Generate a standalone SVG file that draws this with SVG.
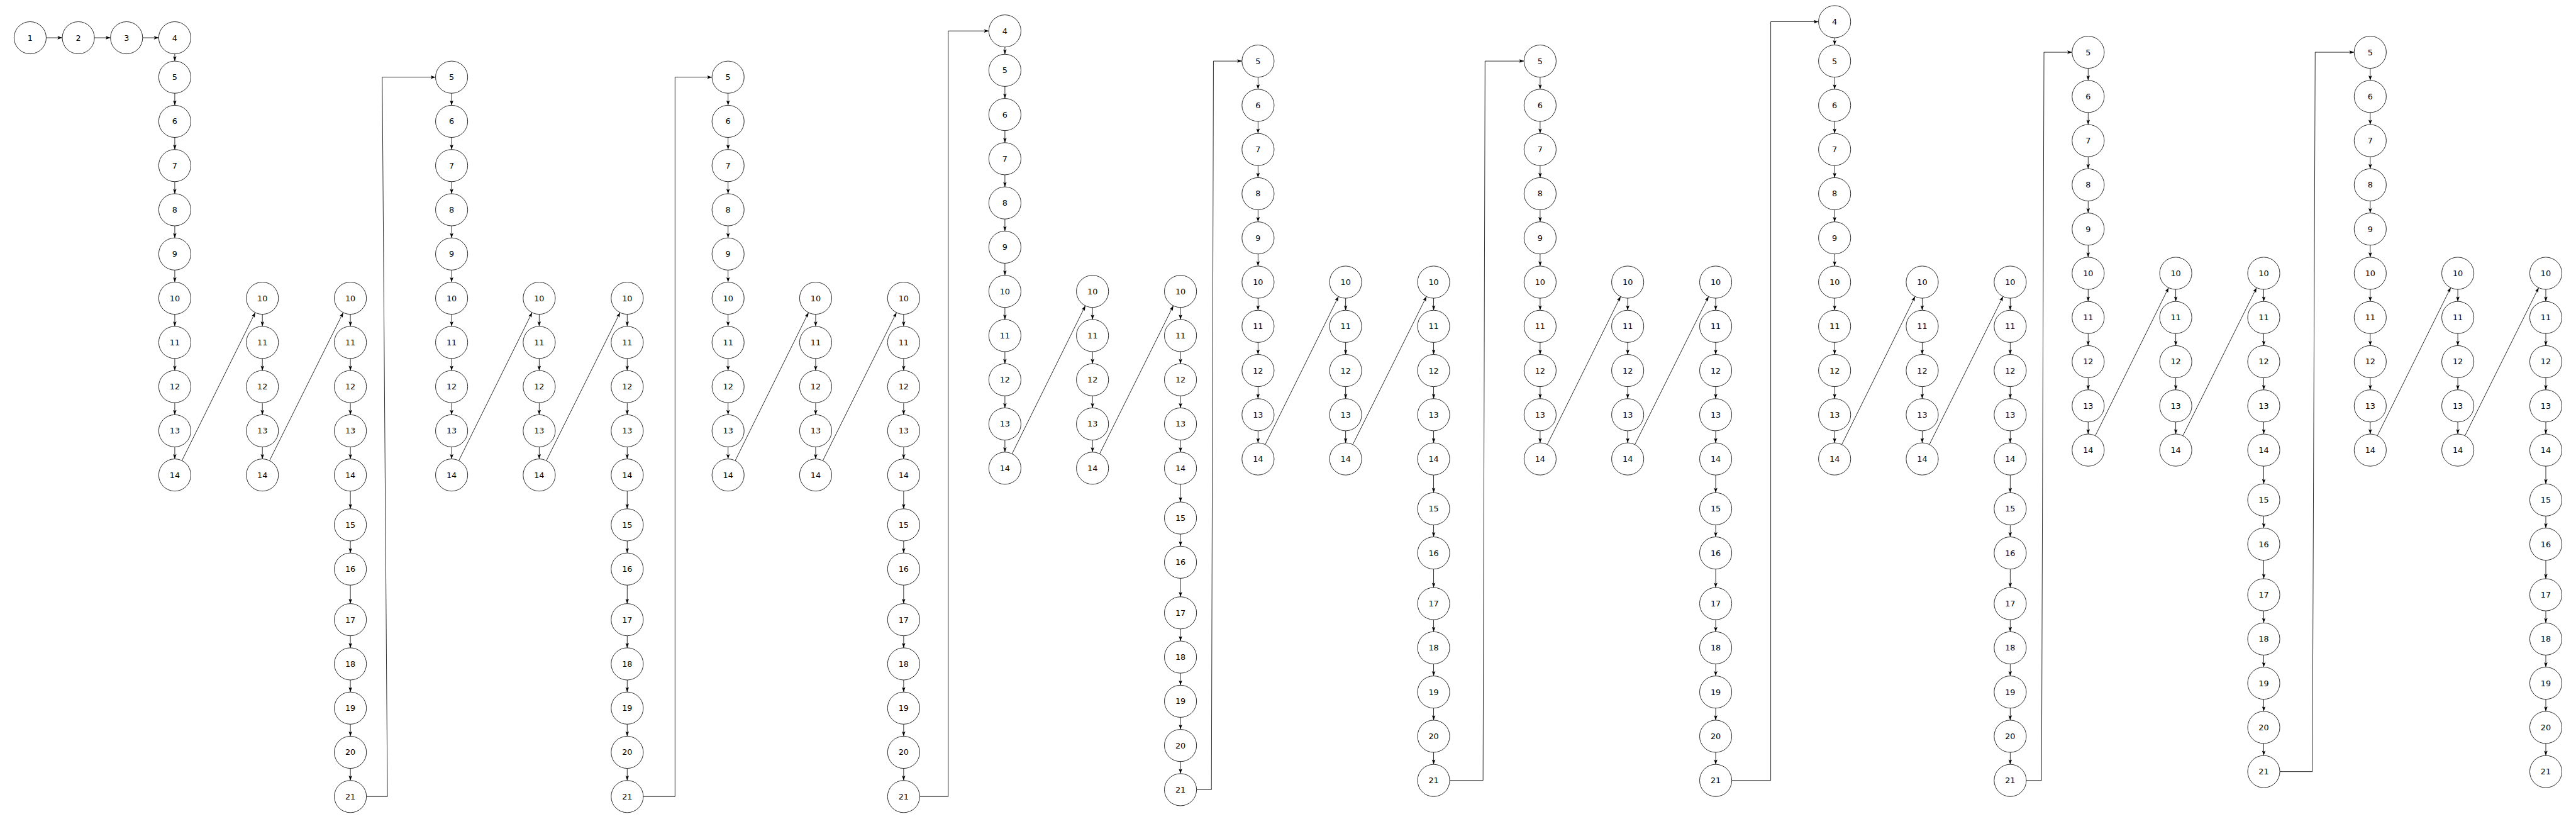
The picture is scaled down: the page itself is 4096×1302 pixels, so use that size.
<svg xmlns="http://www.w3.org/2000/svg" width="4096" height="1302" viewBox="0 0 4096 1302">
<style>
.node circle{fill:#fff;stroke:#000;stroke-width:1.3}
.node text{font-family:"DejaVu Sans",sans-serif;font-size:20px;text-anchor:middle;fill:#000}
.edges path{fill:none;stroke:#000;stroke-width:1.3;marker-end:url(#arr)}
</style>
<defs>
<marker id="arr" markerUnits="userSpaceOnUse" viewBox="0 0 12 8.6" markerWidth="12" markerHeight="8.6" refX="12" refY="4.3" orient="auto" overflow="visible"><path d="M0,0L12,4.3L0,8.6L2.5,4.3Z" fill="#000"/></marker>
</defs>
<rect width="4096" height="1302" fill="#fff"/>
<g transform="scale(0.63889)">
<g id="connectors" class="edges">
<path d="M115 94H155"/><path d="M235 94H275"/><path d="M355 94H395"/>
<g transform="translate(435,0)"><path d="M0 134V152"/><path d="M0 232V262"/><path d="M0 342V372"/><path d="M0 452V482"/><path d="M0 562V592"/><path d="M0 672V702"/><path d="M0 782V812"/><path d="M0 892V922"/><path d="M0 1002V1032"/><path d="M0 1112V1142"/><path d="M218 782V812"/><path d="M218 892V922"/><path d="M218 1002V1032"/><path d="M218 1112V1142"/><path d="M437 782V812"/><path d="M437 892V922"/><path d="M437 1002V1032"/><path d="M437 1112V1142"/><path d="M437 1222V1266"/><path d="M437 1346V1376"/><path d="M437 1456V1502"/><path d="M437 1582V1612"/><path d="M437 1692V1722"/><path d="M437 1802V1832"/><path d="M437 1912V1942"/><path d="M17.8 1146.2L200.2 777.8"/><path d="M235.8 1146.2L419.2 777.8"/></g>
<g transform="translate(1124,0)"><path d="M0 232V262"/><path d="M0 342V372"/><path d="M0 452V482"/><path d="M0 562V592"/><path d="M0 672V702"/><path d="M0 782V812"/><path d="M0 892V922"/><path d="M0 1002V1032"/><path d="M0 1112V1142"/><path d="M218 782V812"/><path d="M218 892V922"/><path d="M218 1002V1032"/><path d="M218 1112V1142"/><path d="M437 782V812"/><path d="M437 892V922"/><path d="M437 1002V1032"/><path d="M437 1112V1142"/><path d="M437 1222V1266"/><path d="M437 1346V1376"/><path d="M437 1456V1502"/><path d="M437 1582V1612"/><path d="M437 1692V1722"/><path d="M437 1802V1832"/><path d="M437 1912V1942"/><path d="M17.8 1146.2L200.2 777.8"/><path d="M235.8 1146.2L419.2 777.8"/></g>
<g transform="translate(1812,0)"><path d="M0 232V262"/><path d="M0 342V372"/><path d="M0 452V482"/><path d="M0 562V592"/><path d="M0 672V702"/><path d="M0 782V812"/><path d="M0 892V922"/><path d="M0 1002V1032"/><path d="M0 1112V1142"/><path d="M218 782V812"/><path d="M218 892V922"/><path d="M218 1002V1032"/><path d="M218 1112V1142"/><path d="M437 782V812"/><path d="M437 892V922"/><path d="M437 1002V1032"/><path d="M437 1112V1142"/><path d="M437 1222V1266"/><path d="M437 1346V1376"/><path d="M437 1456V1502"/><path d="M437 1582V1612"/><path d="M437 1692V1722"/><path d="M437 1802V1832"/><path d="M437 1912V1942"/><path d="M17.8 1146.2L200.2 777.8"/><path d="M235.8 1146.2L419.2 777.8"/></g>
<g transform="translate(2501,-17)"><path d="M0 134V152"/><path d="M0 232V262"/><path d="M0 342V372"/><path d="M0 452V482"/><path d="M0 562V592"/><path d="M0 672V702"/><path d="M0 782V812"/><path d="M0 892V922"/><path d="M0 1002V1032"/><path d="M0 1112V1142"/><path d="M218 782V812"/><path d="M218 892V922"/><path d="M218 1002V1032"/><path d="M218 1112V1142"/><path d="M437 782V812"/><path d="M437 892V922"/><path d="M437 1002V1032"/><path d="M437 1112V1142"/><path d="M437 1222V1266"/><path d="M437 1346V1376"/><path d="M437 1456V1502"/><path d="M437 1582V1612"/><path d="M437 1692V1722"/><path d="M437 1802V1832"/><path d="M437 1912V1942"/><path d="M17.8 1146.2L200.2 777.8"/><path d="M235.8 1146.2L419.2 777.8"/></g>
<g transform="translate(3131,-40)"><path d="M0 232V262"/><path d="M0 342V372"/><path d="M0 452V482"/><path d="M0 562V592"/><path d="M0 672V702"/><path d="M0 782V812"/><path d="M0 892V922"/><path d="M0 1002V1032"/><path d="M0 1112V1142"/><path d="M218 782V812"/><path d="M218 892V922"/><path d="M218 1002V1032"/><path d="M218 1112V1142"/><path d="M437 782V812"/><path d="M437 892V922"/><path d="M437 1002V1032"/><path d="M437 1112V1142"/><path d="M437 1222V1266"/><path d="M437 1346V1376"/><path d="M437 1456V1502"/><path d="M437 1582V1612"/><path d="M437 1692V1722"/><path d="M437 1802V1832"/><path d="M437 1912V1942"/><path d="M17.8 1146.2L200.2 777.8"/><path d="M235.8 1146.2L419.2 777.8"/></g>
<g transform="translate(3833,-40)"><path d="M0 232V262"/><path d="M0 342V372"/><path d="M0 452V482"/><path d="M0 562V592"/><path d="M0 672V702"/><path d="M0 782V812"/><path d="M0 892V922"/><path d="M0 1002V1032"/><path d="M0 1112V1142"/><path d="M218 782V812"/><path d="M218 892V922"/><path d="M218 1002V1032"/><path d="M218 1112V1142"/><path d="M437 782V812"/><path d="M437 892V922"/><path d="M437 1002V1032"/><path d="M437 1112V1142"/><path d="M437 1222V1266"/><path d="M437 1346V1376"/><path d="M437 1456V1502"/><path d="M437 1582V1612"/><path d="M437 1692V1722"/><path d="M437 1802V1832"/><path d="M437 1912V1942"/><path d="M17.8 1146.2L200.2 777.8"/><path d="M235.8 1146.2L419.2 777.8"/></g>
<g transform="translate(4566,-40)"><path d="M0 134V152"/><path d="M0 232V262"/><path d="M0 342V372"/><path d="M0 452V482"/><path d="M0 562V592"/><path d="M0 672V702"/><path d="M0 782V812"/><path d="M0 892V922"/><path d="M0 1002V1032"/><path d="M0 1112V1142"/><path d="M218 782V812"/><path d="M218 892V922"/><path d="M218 1002V1032"/><path d="M218 1112V1142"/><path d="M437 782V812"/><path d="M437 892V922"/><path d="M437 1002V1032"/><path d="M437 1112V1142"/><path d="M437 1222V1266"/><path d="M437 1346V1376"/><path d="M437 1456V1502"/><path d="M437 1582V1612"/><path d="M437 1692V1722"/><path d="M437 1802V1832"/><path d="M437 1912V1942"/><path d="M17.8 1146.2L200.2 777.8"/><path d="M235.8 1146.2L419.2 777.8"/></g>
<g transform="translate(5197,-62)"><path d="M0 232V262"/><path d="M0 342V372"/><path d="M0 452V482"/><path d="M0 562V592"/><path d="M0 672V702"/><path d="M0 782V812"/><path d="M0 892V922"/><path d="M0 1002V1032"/><path d="M0 1112V1142"/><path d="M218 782V812"/><path d="M218 892V922"/><path d="M218 1002V1032"/><path d="M218 1112V1142"/><path d="M437 782V812"/><path d="M437 892V922"/><path d="M437 1002V1032"/><path d="M437 1112V1142"/><path d="M437 1222V1266"/><path d="M437 1346V1376"/><path d="M437 1456V1502"/><path d="M437 1582V1612"/><path d="M437 1692V1722"/><path d="M437 1802V1832"/><path d="M437 1912V1942"/><path d="M17.8 1146.2L200.2 777.8"/><path d="M235.8 1146.2L419.2 777.8"/></g>
<g transform="translate(5899,-62)"><path d="M0 232V262"/><path d="M0 342V372"/><path d="M0 452V482"/><path d="M0 562V592"/><path d="M0 672V702"/><path d="M0 782V812"/><path d="M0 892V922"/><path d="M0 1002V1032"/><path d="M0 1112V1142"/><path d="M218 782V812"/><path d="M218 892V922"/><path d="M218 1002V1032"/><path d="M218 1112V1142"/><path d="M437 782V812"/><path d="M437 892V922"/><path d="M437 1002V1032"/><path d="M437 1112V1142"/><path d="M437 1222V1266"/><path d="M437 1346V1376"/><path d="M437 1456V1502"/><path d="M437 1582V1612"/><path d="M437 1692V1722"/><path d="M437 1802V1832"/><path d="M437 1912V1942"/><path d="M17.8 1146.2L200.2 777.8"/><path d="M235.8 1146.2L419.2 777.8"/></g>
<path d="M912 1982H964.3L951.3 192H1084"/>
<path d="M1601 1982H1680V192H1772"/>
<path d="M2289 1982H2360V77H2461"/>
<path d="M2978 1965H3015L3020 152H3091"/>
<path d="M3608 1942H3691L3696 152H3793"/>
<path d="M4310 1942H4407V54H4526"/>
<path d="M5043 1942H5081L5087 130H5157"/>
<path d="M5674 1920H5755L5762 130H5859"/>
</g>
<g id="nodes">
<g id="n1" class="node"><circle cx="75" cy="94" r="40"/><text x="75" y="101">1</text></g>
<g id="n2" class="node"><circle cx="195" cy="94" r="40"/><text x="195" y="101">2</text></g>
<g id="n3" class="node"><circle cx="315" cy="94" r="40"/><text x="315" y="101">3</text></g>
<g id="block1" transform="translate(435,0)">
<g id="b1-A4" class="node"><circle cx="0" cy="94" r="40"/><text x="0" y="101">4</text></g>
<g id="b1-A5" class="node"><circle cx="0" cy="192" r="40"/><text x="0" y="199">5</text></g>
<g id="b1-A6" class="node"><circle cx="0" cy="302" r="40"/><text x="0" y="309">6</text></g>
<g id="b1-A7" class="node"><circle cx="0" cy="412" r="40"/><text x="0" y="419">7</text></g>
<g id="b1-A8" class="node"><circle cx="0" cy="522" r="40"/><text x="0" y="529">8</text></g>
<g id="b1-A9" class="node"><circle cx="0" cy="632" r="40"/><text x="0" y="639">9</text></g>
<g id="b1-A10" class="node"><circle cx="0" cy="742" r="40"/><text x="0" y="749">10</text></g>
<g id="b1-A11" class="node"><circle cx="0" cy="852" r="40"/><text x="0" y="859">11</text></g>
<g id="b1-A12" class="node"><circle cx="0" cy="962" r="40"/><text x="0" y="969">12</text></g>
<g id="b1-A13" class="node"><circle cx="0" cy="1072" r="40"/><text x="0" y="1079">13</text></g>
<g id="b1-A14" class="node"><circle cx="0" cy="1182" r="40"/><text x="0" y="1189">14</text></g>
<g id="b1-B10" class="node"><circle cx="218" cy="742" r="40"/><text x="218" y="749">10</text></g>
<g id="b1-B11" class="node"><circle cx="218" cy="852" r="40"/><text x="218" y="859">11</text></g>
<g id="b1-B12" class="node"><circle cx="218" cy="962" r="40"/><text x="218" y="969">12</text></g>
<g id="b1-B13" class="node"><circle cx="218" cy="1072" r="40"/><text x="218" y="1079">13</text></g>
<g id="b1-B14" class="node"><circle cx="218" cy="1182" r="40"/><text x="218" y="1189">14</text></g>
<g id="b1-C10" class="node"><circle cx="437" cy="742" r="40"/><text x="437" y="749">10</text></g>
<g id="b1-C11" class="node"><circle cx="437" cy="852" r="40"/><text x="437" y="859">11</text></g>
<g id="b1-C12" class="node"><circle cx="437" cy="962" r="40"/><text x="437" y="969">12</text></g>
<g id="b1-C13" class="node"><circle cx="437" cy="1072" r="40"/><text x="437" y="1079">13</text></g>
<g id="b1-C14" class="node"><circle cx="437" cy="1182" r="40"/><text x="437" y="1189">14</text></g>
<g id="b1-C15" class="node"><circle cx="437" cy="1306" r="40"/><text x="437" y="1313">15</text></g>
<g id="b1-C16" class="node"><circle cx="437" cy="1416" r="40"/><text x="437" y="1423">16</text></g>
<g id="b1-C17" class="node"><circle cx="437" cy="1542" r="40"/><text x="437" y="1549">17</text></g>
<g id="b1-C18" class="node"><circle cx="437" cy="1652" r="40"/><text x="437" y="1659">18</text></g>
<g id="b1-C19" class="node"><circle cx="437" cy="1762" r="40"/><text x="437" y="1769">19</text></g>
<g id="b1-C20" class="node"><circle cx="437" cy="1872" r="40"/><text x="437" y="1879">20</text></g>
<g id="b1-C21" class="node"><circle cx="437" cy="1982" r="40"/><text x="437" y="1989">21</text></g>
</g>
<g id="block2" transform="translate(1124,0)">
<g id="b2-A5" class="node"><circle cx="0" cy="192" r="40"/><text x="0" y="199">5</text></g>
<g id="b2-A6" class="node"><circle cx="0" cy="302" r="40"/><text x="0" y="309">6</text></g>
<g id="b2-A7" class="node"><circle cx="0" cy="412" r="40"/><text x="0" y="419">7</text></g>
<g id="b2-A8" class="node"><circle cx="0" cy="522" r="40"/><text x="0" y="529">8</text></g>
<g id="b2-A9" class="node"><circle cx="0" cy="632" r="40"/><text x="0" y="639">9</text></g>
<g id="b2-A10" class="node"><circle cx="0" cy="742" r="40"/><text x="0" y="749">10</text></g>
<g id="b2-A11" class="node"><circle cx="0" cy="852" r="40"/><text x="0" y="859">11</text></g>
<g id="b2-A12" class="node"><circle cx="0" cy="962" r="40"/><text x="0" y="969">12</text></g>
<g id="b2-A13" class="node"><circle cx="0" cy="1072" r="40"/><text x="0" y="1079">13</text></g>
<g id="b2-A14" class="node"><circle cx="0" cy="1182" r="40"/><text x="0" y="1189">14</text></g>
<g id="b2-B10" class="node"><circle cx="218" cy="742" r="40"/><text x="218" y="749">10</text></g>
<g id="b2-B11" class="node"><circle cx="218" cy="852" r="40"/><text x="218" y="859">11</text></g>
<g id="b2-B12" class="node"><circle cx="218" cy="962" r="40"/><text x="218" y="969">12</text></g>
<g id="b2-B13" class="node"><circle cx="218" cy="1072" r="40"/><text x="218" y="1079">13</text></g>
<g id="b2-B14" class="node"><circle cx="218" cy="1182" r="40"/><text x="218" y="1189">14</text></g>
<g id="b2-C10" class="node"><circle cx="437" cy="742" r="40"/><text x="437" y="749">10</text></g>
<g id="b2-C11" class="node"><circle cx="437" cy="852" r="40"/><text x="437" y="859">11</text></g>
<g id="b2-C12" class="node"><circle cx="437" cy="962" r="40"/><text x="437" y="969">12</text></g>
<g id="b2-C13" class="node"><circle cx="437" cy="1072" r="40"/><text x="437" y="1079">13</text></g>
<g id="b2-C14" class="node"><circle cx="437" cy="1182" r="40"/><text x="437" y="1189">14</text></g>
<g id="b2-C15" class="node"><circle cx="437" cy="1306" r="40"/><text x="437" y="1313">15</text></g>
<g id="b2-C16" class="node"><circle cx="437" cy="1416" r="40"/><text x="437" y="1423">16</text></g>
<g id="b2-C17" class="node"><circle cx="437" cy="1542" r="40"/><text x="437" y="1549">17</text></g>
<g id="b2-C18" class="node"><circle cx="437" cy="1652" r="40"/><text x="437" y="1659">18</text></g>
<g id="b2-C19" class="node"><circle cx="437" cy="1762" r="40"/><text x="437" y="1769">19</text></g>
<g id="b2-C20" class="node"><circle cx="437" cy="1872" r="40"/><text x="437" y="1879">20</text></g>
<g id="b2-C21" class="node"><circle cx="437" cy="1982" r="40"/><text x="437" y="1989">21</text></g>
</g>
<g id="block3" transform="translate(1812,0)">
<g id="b3-A5" class="node"><circle cx="0" cy="192" r="40"/><text x="0" y="199">5</text></g>
<g id="b3-A6" class="node"><circle cx="0" cy="302" r="40"/><text x="0" y="309">6</text></g>
<g id="b3-A7" class="node"><circle cx="0" cy="412" r="40"/><text x="0" y="419">7</text></g>
<g id="b3-A8" class="node"><circle cx="0" cy="522" r="40"/><text x="0" y="529">8</text></g>
<g id="b3-A9" class="node"><circle cx="0" cy="632" r="40"/><text x="0" y="639">9</text></g>
<g id="b3-A10" class="node"><circle cx="0" cy="742" r="40"/><text x="0" y="749">10</text></g>
<g id="b3-A11" class="node"><circle cx="0" cy="852" r="40"/><text x="0" y="859">11</text></g>
<g id="b3-A12" class="node"><circle cx="0" cy="962" r="40"/><text x="0" y="969">12</text></g>
<g id="b3-A13" class="node"><circle cx="0" cy="1072" r="40"/><text x="0" y="1079">13</text></g>
<g id="b3-A14" class="node"><circle cx="0" cy="1182" r="40"/><text x="0" y="1189">14</text></g>
<g id="b3-B10" class="node"><circle cx="218" cy="742" r="40"/><text x="218" y="749">10</text></g>
<g id="b3-B11" class="node"><circle cx="218" cy="852" r="40"/><text x="218" y="859">11</text></g>
<g id="b3-B12" class="node"><circle cx="218" cy="962" r="40"/><text x="218" y="969">12</text></g>
<g id="b3-B13" class="node"><circle cx="218" cy="1072" r="40"/><text x="218" y="1079">13</text></g>
<g id="b3-B14" class="node"><circle cx="218" cy="1182" r="40"/><text x="218" y="1189">14</text></g>
<g id="b3-C10" class="node"><circle cx="437" cy="742" r="40"/><text x="437" y="749">10</text></g>
<g id="b3-C11" class="node"><circle cx="437" cy="852" r="40"/><text x="437" y="859">11</text></g>
<g id="b3-C12" class="node"><circle cx="437" cy="962" r="40"/><text x="437" y="969">12</text></g>
<g id="b3-C13" class="node"><circle cx="437" cy="1072" r="40"/><text x="437" y="1079">13</text></g>
<g id="b3-C14" class="node"><circle cx="437" cy="1182" r="40"/><text x="437" y="1189">14</text></g>
<g id="b3-C15" class="node"><circle cx="437" cy="1306" r="40"/><text x="437" y="1313">15</text></g>
<g id="b3-C16" class="node"><circle cx="437" cy="1416" r="40"/><text x="437" y="1423">16</text></g>
<g id="b3-C17" class="node"><circle cx="437" cy="1542" r="40"/><text x="437" y="1549">17</text></g>
<g id="b3-C18" class="node"><circle cx="437" cy="1652" r="40"/><text x="437" y="1659">18</text></g>
<g id="b3-C19" class="node"><circle cx="437" cy="1762" r="40"/><text x="437" y="1769">19</text></g>
<g id="b3-C20" class="node"><circle cx="437" cy="1872" r="40"/><text x="437" y="1879">20</text></g>
<g id="b3-C21" class="node"><circle cx="437" cy="1982" r="40"/><text x="437" y="1989">21</text></g>
</g>
<g id="block4" transform="translate(2501,-17)">
<g id="b4-A4" class="node"><circle cx="0" cy="94" r="40"/><text x="0" y="101">4</text></g>
<g id="b4-A5" class="node"><circle cx="0" cy="192" r="40"/><text x="0" y="199">5</text></g>
<g id="b4-A6" class="node"><circle cx="0" cy="302" r="40"/><text x="0" y="309">6</text></g>
<g id="b4-A7" class="node"><circle cx="0" cy="412" r="40"/><text x="0" y="419">7</text></g>
<g id="b4-A8" class="node"><circle cx="0" cy="522" r="40"/><text x="0" y="529">8</text></g>
<g id="b4-A9" class="node"><circle cx="0" cy="632" r="40"/><text x="0" y="639">9</text></g>
<g id="b4-A10" class="node"><circle cx="0" cy="742" r="40"/><text x="0" y="749">10</text></g>
<g id="b4-A11" class="node"><circle cx="0" cy="852" r="40"/><text x="0" y="859">11</text></g>
<g id="b4-A12" class="node"><circle cx="0" cy="962" r="40"/><text x="0" y="969">12</text></g>
<g id="b4-A13" class="node"><circle cx="0" cy="1072" r="40"/><text x="0" y="1079">13</text></g>
<g id="b4-A14" class="node"><circle cx="0" cy="1182" r="40"/><text x="0" y="1189">14</text></g>
<g id="b4-B10" class="node"><circle cx="218" cy="742" r="40"/><text x="218" y="749">10</text></g>
<g id="b4-B11" class="node"><circle cx="218" cy="852" r="40"/><text x="218" y="859">11</text></g>
<g id="b4-B12" class="node"><circle cx="218" cy="962" r="40"/><text x="218" y="969">12</text></g>
<g id="b4-B13" class="node"><circle cx="218" cy="1072" r="40"/><text x="218" y="1079">13</text></g>
<g id="b4-B14" class="node"><circle cx="218" cy="1182" r="40"/><text x="218" y="1189">14</text></g>
<g id="b4-C10" class="node"><circle cx="437" cy="742" r="40"/><text x="437" y="749">10</text></g>
<g id="b4-C11" class="node"><circle cx="437" cy="852" r="40"/><text x="437" y="859">11</text></g>
<g id="b4-C12" class="node"><circle cx="437" cy="962" r="40"/><text x="437" y="969">12</text></g>
<g id="b4-C13" class="node"><circle cx="437" cy="1072" r="40"/><text x="437" y="1079">13</text></g>
<g id="b4-C14" class="node"><circle cx="437" cy="1182" r="40"/><text x="437" y="1189">14</text></g>
<g id="b4-C15" class="node"><circle cx="437" cy="1306" r="40"/><text x="437" y="1313">15</text></g>
<g id="b4-C16" class="node"><circle cx="437" cy="1416" r="40"/><text x="437" y="1423">16</text></g>
<g id="b4-C17" class="node"><circle cx="437" cy="1542" r="40"/><text x="437" y="1549">17</text></g>
<g id="b4-C18" class="node"><circle cx="437" cy="1652" r="40"/><text x="437" y="1659">18</text></g>
<g id="b4-C19" class="node"><circle cx="437" cy="1762" r="40"/><text x="437" y="1769">19</text></g>
<g id="b4-C20" class="node"><circle cx="437" cy="1872" r="40"/><text x="437" y="1879">20</text></g>
<g id="b4-C21" class="node"><circle cx="437" cy="1982" r="40"/><text x="437" y="1989">21</text></g>
</g>
<g id="block5" transform="translate(3131,-40)">
<g id="b5-A5" class="node"><circle cx="0" cy="192" r="40"/><text x="0" y="199">5</text></g>
<g id="b5-A6" class="node"><circle cx="0" cy="302" r="40"/><text x="0" y="309">6</text></g>
<g id="b5-A7" class="node"><circle cx="0" cy="412" r="40"/><text x="0" y="419">7</text></g>
<g id="b5-A8" class="node"><circle cx="0" cy="522" r="40"/><text x="0" y="529">8</text></g>
<g id="b5-A9" class="node"><circle cx="0" cy="632" r="40"/><text x="0" y="639">9</text></g>
<g id="b5-A10" class="node"><circle cx="0" cy="742" r="40"/><text x="0" y="749">10</text></g>
<g id="b5-A11" class="node"><circle cx="0" cy="852" r="40"/><text x="0" y="859">11</text></g>
<g id="b5-A12" class="node"><circle cx="0" cy="962" r="40"/><text x="0" y="969">12</text></g>
<g id="b5-A13" class="node"><circle cx="0" cy="1072" r="40"/><text x="0" y="1079">13</text></g>
<g id="b5-A14" class="node"><circle cx="0" cy="1182" r="40"/><text x="0" y="1189">14</text></g>
<g id="b5-B10" class="node"><circle cx="218" cy="742" r="40"/><text x="218" y="749">10</text></g>
<g id="b5-B11" class="node"><circle cx="218" cy="852" r="40"/><text x="218" y="859">11</text></g>
<g id="b5-B12" class="node"><circle cx="218" cy="962" r="40"/><text x="218" y="969">12</text></g>
<g id="b5-B13" class="node"><circle cx="218" cy="1072" r="40"/><text x="218" y="1079">13</text></g>
<g id="b5-B14" class="node"><circle cx="218" cy="1182" r="40"/><text x="218" y="1189">14</text></g>
<g id="b5-C10" class="node"><circle cx="437" cy="742" r="40"/><text x="437" y="749">10</text></g>
<g id="b5-C11" class="node"><circle cx="437" cy="852" r="40"/><text x="437" y="859">11</text></g>
<g id="b5-C12" class="node"><circle cx="437" cy="962" r="40"/><text x="437" y="969">12</text></g>
<g id="b5-C13" class="node"><circle cx="437" cy="1072" r="40"/><text x="437" y="1079">13</text></g>
<g id="b5-C14" class="node"><circle cx="437" cy="1182" r="40"/><text x="437" y="1189">14</text></g>
<g id="b5-C15" class="node"><circle cx="437" cy="1306" r="40"/><text x="437" y="1313">15</text></g>
<g id="b5-C16" class="node"><circle cx="437" cy="1416" r="40"/><text x="437" y="1423">16</text></g>
<g id="b5-C17" class="node"><circle cx="437" cy="1542" r="40"/><text x="437" y="1549">17</text></g>
<g id="b5-C18" class="node"><circle cx="437" cy="1652" r="40"/><text x="437" y="1659">18</text></g>
<g id="b5-C19" class="node"><circle cx="437" cy="1762" r="40"/><text x="437" y="1769">19</text></g>
<g id="b5-C20" class="node"><circle cx="437" cy="1872" r="40"/><text x="437" y="1879">20</text></g>
<g id="b5-C21" class="node"><circle cx="437" cy="1982" r="40"/><text x="437" y="1989">21</text></g>
</g>
<g id="block6" transform="translate(3833,-40)">
<g id="b6-A5" class="node"><circle cx="0" cy="192" r="40"/><text x="0" y="199">5</text></g>
<g id="b6-A6" class="node"><circle cx="0" cy="302" r="40"/><text x="0" y="309">6</text></g>
<g id="b6-A7" class="node"><circle cx="0" cy="412" r="40"/><text x="0" y="419">7</text></g>
<g id="b6-A8" class="node"><circle cx="0" cy="522" r="40"/><text x="0" y="529">8</text></g>
<g id="b6-A9" class="node"><circle cx="0" cy="632" r="40"/><text x="0" y="639">9</text></g>
<g id="b6-A10" class="node"><circle cx="0" cy="742" r="40"/><text x="0" y="749">10</text></g>
<g id="b6-A11" class="node"><circle cx="0" cy="852" r="40"/><text x="0" y="859">11</text></g>
<g id="b6-A12" class="node"><circle cx="0" cy="962" r="40"/><text x="0" y="969">12</text></g>
<g id="b6-A13" class="node"><circle cx="0" cy="1072" r="40"/><text x="0" y="1079">13</text></g>
<g id="b6-A14" class="node"><circle cx="0" cy="1182" r="40"/><text x="0" y="1189">14</text></g>
<g id="b6-B10" class="node"><circle cx="218" cy="742" r="40"/><text x="218" y="749">10</text></g>
<g id="b6-B11" class="node"><circle cx="218" cy="852" r="40"/><text x="218" y="859">11</text></g>
<g id="b6-B12" class="node"><circle cx="218" cy="962" r="40"/><text x="218" y="969">12</text></g>
<g id="b6-B13" class="node"><circle cx="218" cy="1072" r="40"/><text x="218" y="1079">13</text></g>
<g id="b6-B14" class="node"><circle cx="218" cy="1182" r="40"/><text x="218" y="1189">14</text></g>
<g id="b6-C10" class="node"><circle cx="437" cy="742" r="40"/><text x="437" y="749">10</text></g>
<g id="b6-C11" class="node"><circle cx="437" cy="852" r="40"/><text x="437" y="859">11</text></g>
<g id="b6-C12" class="node"><circle cx="437" cy="962" r="40"/><text x="437" y="969">12</text></g>
<g id="b6-C13" class="node"><circle cx="437" cy="1072" r="40"/><text x="437" y="1079">13</text></g>
<g id="b6-C14" class="node"><circle cx="437" cy="1182" r="40"/><text x="437" y="1189">14</text></g>
<g id="b6-C15" class="node"><circle cx="437" cy="1306" r="40"/><text x="437" y="1313">15</text></g>
<g id="b6-C16" class="node"><circle cx="437" cy="1416" r="40"/><text x="437" y="1423">16</text></g>
<g id="b6-C17" class="node"><circle cx="437" cy="1542" r="40"/><text x="437" y="1549">17</text></g>
<g id="b6-C18" class="node"><circle cx="437" cy="1652" r="40"/><text x="437" y="1659">18</text></g>
<g id="b6-C19" class="node"><circle cx="437" cy="1762" r="40"/><text x="437" y="1769">19</text></g>
<g id="b6-C20" class="node"><circle cx="437" cy="1872" r="40"/><text x="437" y="1879">20</text></g>
<g id="b6-C21" class="node"><circle cx="437" cy="1982" r="40"/><text x="437" y="1989">21</text></g>
</g>
<g id="block7" transform="translate(4566,-40)">
<g id="b7-A4" class="node"><circle cx="0" cy="94" r="40"/><text x="0" y="101">4</text></g>
<g id="b7-A5" class="node"><circle cx="0" cy="192" r="40"/><text x="0" y="199">5</text></g>
<g id="b7-A6" class="node"><circle cx="0" cy="302" r="40"/><text x="0" y="309">6</text></g>
<g id="b7-A7" class="node"><circle cx="0" cy="412" r="40"/><text x="0" y="419">7</text></g>
<g id="b7-A8" class="node"><circle cx="0" cy="522" r="40"/><text x="0" y="529">8</text></g>
<g id="b7-A9" class="node"><circle cx="0" cy="632" r="40"/><text x="0" y="639">9</text></g>
<g id="b7-A10" class="node"><circle cx="0" cy="742" r="40"/><text x="0" y="749">10</text></g>
<g id="b7-A11" class="node"><circle cx="0" cy="852" r="40"/><text x="0" y="859">11</text></g>
<g id="b7-A12" class="node"><circle cx="0" cy="962" r="40"/><text x="0" y="969">12</text></g>
<g id="b7-A13" class="node"><circle cx="0" cy="1072" r="40"/><text x="0" y="1079">13</text></g>
<g id="b7-A14" class="node"><circle cx="0" cy="1182" r="40"/><text x="0" y="1189">14</text></g>
<g id="b7-B10" class="node"><circle cx="218" cy="742" r="40"/><text x="218" y="749">10</text></g>
<g id="b7-B11" class="node"><circle cx="218" cy="852" r="40"/><text x="218" y="859">11</text></g>
<g id="b7-B12" class="node"><circle cx="218" cy="962" r="40"/><text x="218" y="969">12</text></g>
<g id="b7-B13" class="node"><circle cx="218" cy="1072" r="40"/><text x="218" y="1079">13</text></g>
<g id="b7-B14" class="node"><circle cx="218" cy="1182" r="40"/><text x="218" y="1189">14</text></g>
<g id="b7-C10" class="node"><circle cx="437" cy="742" r="40"/><text x="437" y="749">10</text></g>
<g id="b7-C11" class="node"><circle cx="437" cy="852" r="40"/><text x="437" y="859">11</text></g>
<g id="b7-C12" class="node"><circle cx="437" cy="962" r="40"/><text x="437" y="969">12</text></g>
<g id="b7-C13" class="node"><circle cx="437" cy="1072" r="40"/><text x="437" y="1079">13</text></g>
<g id="b7-C14" class="node"><circle cx="437" cy="1182" r="40"/><text x="437" y="1189">14</text></g>
<g id="b7-C15" class="node"><circle cx="437" cy="1306" r="40"/><text x="437" y="1313">15</text></g>
<g id="b7-C16" class="node"><circle cx="437" cy="1416" r="40"/><text x="437" y="1423">16</text></g>
<g id="b7-C17" class="node"><circle cx="437" cy="1542" r="40"/><text x="437" y="1549">17</text></g>
<g id="b7-C18" class="node"><circle cx="437" cy="1652" r="40"/><text x="437" y="1659">18</text></g>
<g id="b7-C19" class="node"><circle cx="437" cy="1762" r="40"/><text x="437" y="1769">19</text></g>
<g id="b7-C20" class="node"><circle cx="437" cy="1872" r="40"/><text x="437" y="1879">20</text></g>
<g id="b7-C21" class="node"><circle cx="437" cy="1982" r="40"/><text x="437" y="1989">21</text></g>
</g>
<g id="block8" transform="translate(5197,-62)">
<g id="b8-A5" class="node"><circle cx="0" cy="192" r="40"/><text x="0" y="199">5</text></g>
<g id="b8-A6" class="node"><circle cx="0" cy="302" r="40"/><text x="0" y="309">6</text></g>
<g id="b8-A7" class="node"><circle cx="0" cy="412" r="40"/><text x="0" y="419">7</text></g>
<g id="b8-A8" class="node"><circle cx="0" cy="522" r="40"/><text x="0" y="529">8</text></g>
<g id="b8-A9" class="node"><circle cx="0" cy="632" r="40"/><text x="0" y="639">9</text></g>
<g id="b8-A10" class="node"><circle cx="0" cy="742" r="40"/><text x="0" y="749">10</text></g>
<g id="b8-A11" class="node"><circle cx="0" cy="852" r="40"/><text x="0" y="859">11</text></g>
<g id="b8-A12" class="node"><circle cx="0" cy="962" r="40"/><text x="0" y="969">12</text></g>
<g id="b8-A13" class="node"><circle cx="0" cy="1072" r="40"/><text x="0" y="1079">13</text></g>
<g id="b8-A14" class="node"><circle cx="0" cy="1182" r="40"/><text x="0" y="1189">14</text></g>
<g id="b8-B10" class="node"><circle cx="218" cy="742" r="40"/><text x="218" y="749">10</text></g>
<g id="b8-B11" class="node"><circle cx="218" cy="852" r="40"/><text x="218" y="859">11</text></g>
<g id="b8-B12" class="node"><circle cx="218" cy="962" r="40"/><text x="218" y="969">12</text></g>
<g id="b8-B13" class="node"><circle cx="218" cy="1072" r="40"/><text x="218" y="1079">13</text></g>
<g id="b8-B14" class="node"><circle cx="218" cy="1182" r="40"/><text x="218" y="1189">14</text></g>
<g id="b8-C10" class="node"><circle cx="437" cy="742" r="40"/><text x="437" y="749">10</text></g>
<g id="b8-C11" class="node"><circle cx="437" cy="852" r="40"/><text x="437" y="859">11</text></g>
<g id="b8-C12" class="node"><circle cx="437" cy="962" r="40"/><text x="437" y="969">12</text></g>
<g id="b8-C13" class="node"><circle cx="437" cy="1072" r="40"/><text x="437" y="1079">13</text></g>
<g id="b8-C14" class="node"><circle cx="437" cy="1182" r="40"/><text x="437" y="1189">14</text></g>
<g id="b8-C15" class="node"><circle cx="437" cy="1306" r="40"/><text x="437" y="1313">15</text></g>
<g id="b8-C16" class="node"><circle cx="437" cy="1416" r="40"/><text x="437" y="1423">16</text></g>
<g id="b8-C17" class="node"><circle cx="437" cy="1542" r="40"/><text x="437" y="1549">17</text></g>
<g id="b8-C18" class="node"><circle cx="437" cy="1652" r="40"/><text x="437" y="1659">18</text></g>
<g id="b8-C19" class="node"><circle cx="437" cy="1762" r="40"/><text x="437" y="1769">19</text></g>
<g id="b8-C20" class="node"><circle cx="437" cy="1872" r="40"/><text x="437" y="1879">20</text></g>
<g id="b8-C21" class="node"><circle cx="437" cy="1982" r="40"/><text x="437" y="1989">21</text></g>
</g>
<g id="block9" transform="translate(5899,-62)">
<g id="b9-A5" class="node"><circle cx="0" cy="192" r="40"/><text x="0" y="199">5</text></g>
<g id="b9-A6" class="node"><circle cx="0" cy="302" r="40"/><text x="0" y="309">6</text></g>
<g id="b9-A7" class="node"><circle cx="0" cy="412" r="40"/><text x="0" y="419">7</text></g>
<g id="b9-A8" class="node"><circle cx="0" cy="522" r="40"/><text x="0" y="529">8</text></g>
<g id="b9-A9" class="node"><circle cx="0" cy="632" r="40"/><text x="0" y="639">9</text></g>
<g id="b9-A10" class="node"><circle cx="0" cy="742" r="40"/><text x="0" y="749">10</text></g>
<g id="b9-A11" class="node"><circle cx="0" cy="852" r="40"/><text x="0" y="859">11</text></g>
<g id="b9-A12" class="node"><circle cx="0" cy="962" r="40"/><text x="0" y="969">12</text></g>
<g id="b9-A13" class="node"><circle cx="0" cy="1072" r="40"/><text x="0" y="1079">13</text></g>
<g id="b9-A14" class="node"><circle cx="0" cy="1182" r="40"/><text x="0" y="1189">14</text></g>
<g id="b9-B10" class="node"><circle cx="218" cy="742" r="40"/><text x="218" y="749">10</text></g>
<g id="b9-B11" class="node"><circle cx="218" cy="852" r="40"/><text x="218" y="859">11</text></g>
<g id="b9-B12" class="node"><circle cx="218" cy="962" r="40"/><text x="218" y="969">12</text></g>
<g id="b9-B13" class="node"><circle cx="218" cy="1072" r="40"/><text x="218" y="1079">13</text></g>
<g id="b9-B14" class="node"><circle cx="218" cy="1182" r="40"/><text x="218" y="1189">14</text></g>
<g id="b9-C10" class="node"><circle cx="437" cy="742" r="40"/><text x="437" y="749">10</text></g>
<g id="b9-C11" class="node"><circle cx="437" cy="852" r="40"/><text x="437" y="859">11</text></g>
<g id="b9-C12" class="node"><circle cx="437" cy="962" r="40"/><text x="437" y="969">12</text></g>
<g id="b9-C13" class="node"><circle cx="437" cy="1072" r="40"/><text x="437" y="1079">13</text></g>
<g id="b9-C14" class="node"><circle cx="437" cy="1182" r="40"/><text x="437" y="1189">14</text></g>
<g id="b9-C15" class="node"><circle cx="437" cy="1306" r="40"/><text x="437" y="1313">15</text></g>
<g id="b9-C16" class="node"><circle cx="437" cy="1416" r="40"/><text x="437" y="1423">16</text></g>
<g id="b9-C17" class="node"><circle cx="437" cy="1542" r="40"/><text x="437" y="1549">17</text></g>
<g id="b9-C18" class="node"><circle cx="437" cy="1652" r="40"/><text x="437" y="1659">18</text></g>
<g id="b9-C19" class="node"><circle cx="437" cy="1762" r="40"/><text x="437" y="1769">19</text></g>
<g id="b9-C20" class="node"><circle cx="437" cy="1872" r="40"/><text x="437" y="1879">20</text></g>
<g id="b9-C21" class="node"><circle cx="437" cy="1982" r="40"/><text x="437" y="1989">21</text></g>
</g>
</g>
</g>
</svg>
